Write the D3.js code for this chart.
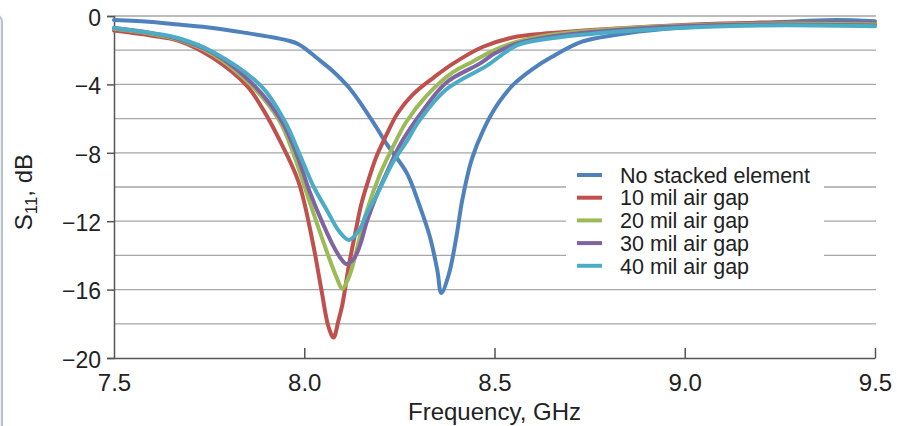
<!DOCTYPE html>
<html>
<head>
<meta charset="utf-8">
<script src="https://cdn.jsdelivr.net/npm/d3@7"></script>
<style>
  body { margin: 0; background: #fff; }
  svg { display: block; font-family: "Liberation Sans", Arial, sans-serif; }
</style>
</head>
<body>
<div id="chart"></div>
<script>
// series values (frequency in GHz, S11 in dB)
const freqNoStack = [7.5, 7.6, 7.67, 7.76, 7.85, 7.93, 7.96, 7.985, 8.005, 8.03, 8.074, 8.118, 8.175, 8.22, 8.27, 8.3, 8.33, 8.35, 8.36, 8.38, 8.4, 8.415, 8.44, 8.47, 8.51, 8.55, 8.6, 8.65, 8.73, 8.82, 8.95, 9.15, 9.3, 9.4, 9.5];
const s11NoStack = [-0.23, -0.35, -0.5, -0.7, -1.0, -1.3, -1.45, -1.65, -1.95, -2.4, -3.2, -4.2, -6.0, -7.6, -9.2, -10.9, -12.9, -14.9, -16.2, -15.1, -12.9, -10.8, -8.4, -6.7, -5.1, -4.0, -3.1, -2.4, -1.5, -1.1, -0.75, -0.45, -0.3, -0.23, -0.3];

const freq10 = [7.5, 7.6, 7.67, 7.76, 7.85, 7.89, 7.934, 7.985, 8.022, 8.045, 8.064, 8.077, 8.09, 8.1, 8.118, 8.135, 8.15, 8.17, 8.19, 8.215, 8.245, 8.285, 8.34, 8.39, 8.47, 8.56, 8.65, 8.9, 9.2, 9.5];
const s1110 = [-0.85, -1.15, -1.45, -2.45, -4.1, -5.4, -7.2, -9.7, -13.2, -16.0, -18.2, -18.8, -17.8, -16.9, -14.5, -12.6, -11.0, -9.5, -8.2, -7.0, -5.7, -4.6, -3.6, -2.8, -1.8, -1.2, -1.0, -0.63, -0.4, -0.45];

const freq20 = [7.5, 7.6, 7.67, 7.76, 7.863, 7.934, 7.974, 8.013, 8.058, 8.087, 8.1, 8.115, 8.126, 8.163, 8.2, 8.232, 8.268, 8.32, 8.39, 8.44, 8.5, 8.56, 8.65, 8.9, 9.2, 9.5];
const s1120 = [-0.75, -1.05, -1.4, -2.25, -4.1, -6.1, -8.2, -10.8, -13.7, -15.4, -15.95, -15.4, -14.7, -11.5, -9.2, -7.7, -6.2, -4.7, -3.3, -2.7, -2.0, -1.5, -1.1, -0.65, -0.45, -0.5];

const freq30 = [7.5, 7.6, 7.67, 7.76, 7.87, 7.942, 7.982, 8.013, 8.05, 8.08, 8.1, 8.11, 8.13, 8.145, 8.165, 8.19, 8.22, 8.25, 8.303, 8.373, 8.46, 8.5, 8.56, 8.65, 8.9, 9.2, 9.5];
const s1130 = [-0.7, -1.0, -1.35, -2.15, -4.1, -6.2, -8.2, -10.2, -12.2, -13.6, -14.3, -14.5, -14.2, -13.5, -12.0, -10.5, -9.0, -7.6, -5.8, -3.9, -2.8, -2.2, -1.6, -1.2, -0.7, -0.5, -0.55];

const freq40 = [7.5, 7.6, 7.67, 7.76, 7.887, 7.95, 7.99, 8.025, 8.058, 8.092, 8.118, 8.145, 8.163, 8.19, 8.232, 8.27, 8.303, 8.373, 8.48, 8.56, 8.65, 8.9, 9.2, 9.5];
const s1140 = [-0.7, -1.0, -1.3, -2.1, -4.1, -6.2, -8.2, -10.0, -11.3, -12.6, -13.1, -12.5, -11.6, -10.5, -8.6, -7.3, -6.1, -4.3, -2.9, -1.7, -1.3, -0.8, -0.55, -0.6];

const seriesNames = ["No stacked element", "10 mil air gap", "20 mil air gap", "30 mil air gap", "40 mil air gap"];
const seriesColors = ["#4F81BD", "#C0504D", "#9BBB59", "#8064A2", "#4BACC6"];

const xTicks = [7.5, 8.0, 8.5, 9.0, 9.5];
const yTicks = [0, -4, -8, -12, -16, -20];
const yGrid = [0, -2, -4, -6, -8, -10, -12, -14, -16, -18];

const width = 897,
  height = 426;

const svg = d3
  .select("#chart")
  .append("svg")
  .attr("width", width)
  .attr("height", height)
  .attr("viewBox", [0, 0, width, height]);

const x = d3.scaleLinear().domain([7.5, 9.5]).range([114, 875]);
const y = d3.scaleLinear().domain([-20, 0]).range([358, 16]);

// panel edge on the far left of the source figure
svg.append("rect")
  .attr("x", -20).attr("y", 14).attr("width", 22).attr("height", 430)
  .attr("rx", 8)
  .attr("fill", "#eef1f4")
  .attr("stroke", "#b8c2cc")
  .attr("stroke-width", 2);

// gridlines
svg.append("g")
  .selectAll("line")
  .data(yGrid)
  .join("line")
  .attr("x1", x(7.5))
  .attr("x2", x(9.5) + 1)
  .attr("y1", (d) => y(d))
  .attr("y2", (d) => y(d))
  .attr("stroke", "#a6a6a6")
  .attr("stroke-width", 1.3);

// y axis
const yAxis = svg.append("g")
  .attr("transform", `translate(${x(7.5)},0)`)
  .call(d3.axisLeft(y).tickValues(yTicks).tickSize(7).tickPadding(6)
    .tickFormat((d) => d === 0 ? "0" : "\u2212" + Math.abs(d)));
yAxis.select(".domain").attr("stroke", "#555").attr("stroke-width", 1.5);
yAxis.selectAll(".tick line").attr("stroke", "#555").attr("stroke-width", 1.5);
yAxis.selectAll("text").attr("font-size", 23).attr("fill", "#222")
  .attr("font-family", "Liberation Sans, Arial, sans-serif")
  .attr("dy", "0.4em");

// x axis, ticks point up into the plot
const xAxis = svg.append("g")
  .attr("transform", `translate(0,${y(-20)})`)
  .call(d3.axisBottom(x).tickValues(xTicks).tickSizeInner(-10).tickSizeOuter(0).tickPadding(16)
    .tickFormat(d3.format(".1f")));
xAxis.select(".domain").attr("stroke", "#555").attr("stroke-width", 1.5);
xAxis.selectAll(".tick line").attr("stroke", "#555").attr("stroke-width", 1.5);
xAxis.selectAll(".tick").filter((d) => d === 7.5).select("line").remove();
xAxis.selectAll("text").attr("font-size", 24).attr("fill", "#222")
  .attr("font-family", "Liberation Sans, Arial, sans-serif");

// axis titles
svg.append("text")
  .attr("x", x(8.5))
  .attr("y", 420)
  .attr("text-anchor", "middle")
  .attr("font-size", 24)
  .attr("fill", "#222")
  .text("Frequency, GHz");

const yTitle = svg.append("text")
  .attr("transform", `translate(32,${y(-10.3)}) rotate(-90)`)
  .attr("text-anchor", "middle")
  .attr("font-size", 24)
  .attr("fill", "#222");
yTitle.append("tspan").text("S");
yTitle.append("tspan").attr("font-size", 17).attr("dy", 5).text("11");
yTitle.append("tspan").attr("dy", -5).text(", dB");

// curves
const series = [
  { f: freqNoStack, s: s11NoStack },
  { f: freq10, s: s1110 },
  { f: freq20, s: s1120 },
  { f: freq30, s: s1130 },
  { f: freq40, s: s1140 },
].map((d, i) => ({
  name: seriesNames[i],
  color: seriesColors[i],
  values: d.f.map((f, j) => [f, d.s[j]]),
}));

const line = d3.line()
  .x((d) => x(d[0]))
  .y((d) => y(d[1]))
  .curve(d3.curveCatmullRom.alpha(0.5));

svg.append("g")
  .selectAll("path")
  .data(series)
  .join("path")
  .attr("fill", "none")
  .attr("stroke", (d) => d.color)
  .attr("stroke-width", 4)
  .attr("stroke-linejoin", "round")
  .attr("stroke-linecap", "round")
  .attr("d", (d) => line(d.values));

// legend
const legend = svg.append("g");
legend.append("rect")
  .attr("x", 566).attr("y", 160).attr("width", 258).attr("height", 117)
  .attr("fill", "#fff");

const rows = legend.selectAll("g")
  .data(series)
  .join("g")
  .attr("transform", (d, i) => `translate(577,${175 + i * 22.7})`);
rows.append("line")
  .attr("x1", 0).attr("x2", 25)
  .attr("stroke", (d) => d.color)
  .attr("stroke-width", 4);
rows.append("text")
  .attr("x", 43)
  .attr("dy", "0.36em")
  .attr("font-size", 21.5)
  .attr("fill", "#222")
  .text((d) => d.name);
</script>
</body>
</html>
